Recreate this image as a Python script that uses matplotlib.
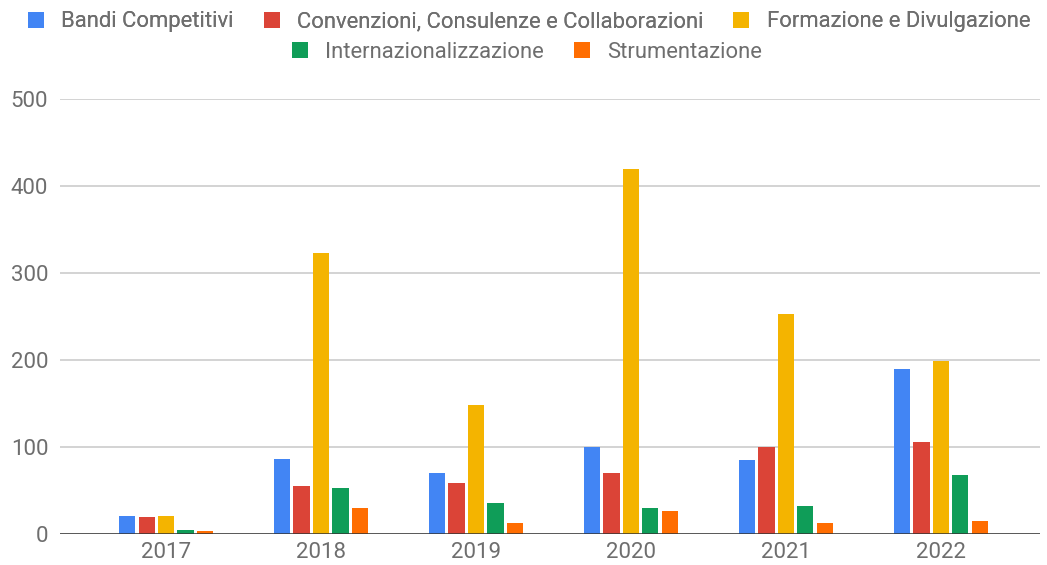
import matplotlib.pyplot as plt
import numpy as np
from matplotlib.patches import Patch

plt.rcParams["font.family"] = ["Roboto", "DejaVu Sans"]

# data
years = ["2017", "2018", "2019", "2020", "2021", "2022"]
series_names = [
    "Bandi Competitivi",
    "Convenzioni, Consulenze e Collaborazioni",
    "Formazione e Divulgazione",
    "Internazionalizzazione",
    "Strumentazione",
]
bandi = [21, 86, 70, 100, 85, 190]
convenzioni = [19, 55, 59, 70, 100, 106]
formazione = [21, 323, 148, 419, 253, 199]
internaz = [5, 53, 36, 30, 32, 68]
strumentazione = [3, 30, 13, 26, 13, 15]

colors = ["#4285F4", "#DB4437", "#F4B400", "#0F9D58", "#FF6D01"]
text_gray = "#6E6E6E"

fig = plt.figure(figsize=(10.47, 5.65), dpi=100)
ax = fig.add_axes([60 / 1047, 31 / 565, 980 / 1047, 435 / 565])

x = np.arange(len(years))
pitch = 0.125
width = 0.105
all_series = [bandi, convenzioni, formazione, internaz, strumentazione]
for i, (vals, col) in enumerate(zip(all_series, colors)):
    ax.bar(x + (i - 2) * pitch, vals, width=width, color=col, zorder=3,
           linewidth=0)

ax.set_xlim(-0.684, 5.639)
ax.set_ylim(0, 500)
ax.set_yticks(range(0, 501, 100))
ax.set_xticks(x)
ax.set_xticklabels(years)
ax.grid(axis="y", color="#CCCCCC", linewidth=1.2, zorder=0)
ax.axhline(0, color="#333333", linewidth=1.8, zorder=4)
for s in ax.spines.values():
    s.set_visible(False)
ax.tick_params(axis="both", length=0, labelsize=16, colors=text_gray)
ax.tick_params(axis="y", pad=8.5)
ax.tick_params(axis="x", pad=6)

handles = [Patch(facecolor=c, edgecolor="none") for c in colors]
leg_kw = dict(frameon=False, fontsize=15.8, handlelength=0.73, handleheight=0.73,
              handletextpad=0.78, columnspacing=1.37, labelcolor=text_gray)
leg1 = fig.legend(handles[:3], series_names[:3], ncol=3, loc="center",
                  bbox_to_anchor=(529 / 1047, 1 - 22 / 565), **leg_kw)
fig.add_artist(leg1)
fig.legend(handles[3:], series_names[3:], ncol=2, loc="center",
           bbox_to_anchor=(527 / 1047, 1 - 52 / 565), **leg_kw)

fig.savefig("out.png", dpi=100)
